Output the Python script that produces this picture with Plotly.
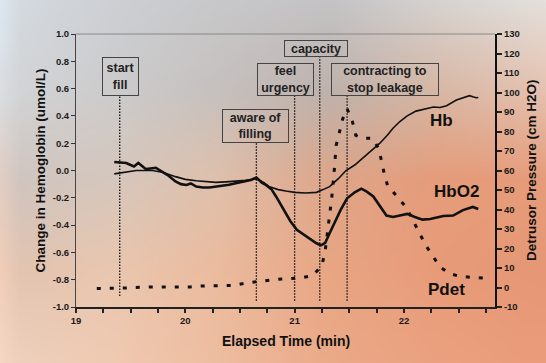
import base64, struct, zlib
import numpy as np
import plotly.graph_objects as go

# ---------------- data ----------------
hb_t = [19.35, 19.45, 19.55, 19.70, 19.80, 19.91, 20.00, 20.10, 20.20, 20.28, 20.37, 20.46, 20.55, 20.65,
        20.72, 20.77, 20.85, 20.92, 21.00, 21.10, 21.20, 21.26, 21.32, 21.40, 21.47, 21.55, 21.62, 21.70,
        21.78, 21.85, 21.90, 21.96, 22.03, 22.11, 22.20, 22.27, 22.33, 22.39, 22.48, 22.55, 22.60, 22.63,
        22.66, 22.68]
hb_v = [-0.025, -0.015, 0.0, 0.0, -0.015, -0.045, -0.065, -0.075, -0.083, -0.087, -0.083, -0.080, -0.072,
        -0.060, -0.090, -0.120, -0.140, -0.150, -0.160, -0.165, -0.160, -0.140, -0.118, -0.060, 0.0, 0.040,
        0.090, 0.140, 0.200, 0.260, 0.310, 0.357, 0.400, 0.435, 0.450, 0.465, 0.462, 0.475, 0.516, 0.535,
        0.548, 0.540, 0.533, 0.535]

hbo2_t = [19.35, 19.42, 19.46, 19.50, 19.53, 19.57, 19.60, 19.64, 19.68, 19.73, 19.79, 19.85, 19.91, 19.96,
          20.01, 20.05, 20.10, 20.16, 20.22, 20.28, 20.34, 20.40, 20.46, 20.50, 20.55, 20.60, 20.65, 20.70,
          20.74, 20.79, 20.83, 20.90, 20.96, 21.02, 21.10, 21.20, 21.24, 21.28, 21.32, 21.37, 21.42, 21.48,
          21.55, 21.61, 21.66, 21.72, 21.78, 21.84, 21.90, 21.96, 22.03, 22.10, 22.17, 22.24, 22.30, 22.36,
          22.45, 22.54, 22.60, 22.63, 22.68]
hbo2_v = [0.062, 0.060, 0.055, 0.040, 0.030, 0.055, 0.035, 0.010, 0.015, 0.020, -0.010, -0.040, -0.080,
          -0.100, -0.106, -0.095, -0.118, -0.125, -0.125, -0.120, -0.110, -0.105, -0.094, -0.088, -0.082,
          -0.070, -0.052, -0.090, -0.108, -0.140, -0.190, -0.290, -0.370, -0.435, -0.480, -0.533, -0.548,
          -0.530, -0.460, -0.370, -0.290, -0.204, -0.160, -0.133, -0.155, -0.190, -0.260, -0.330, -0.340,
          -0.330, -0.318, -0.340, -0.360, -0.355, -0.345, -0.333, -0.330, -0.290, -0.275, -0.267, -0.282]

pdet_t = [19.19, 19.43, 19.68, 19.92, 20.05, 20.16, 20.32, 20.44, 20.56, 20.68, 20.80, 20.92, 21.05, 21.17,
          21.25, 21.28, 21.31, 21.34, 21.36, 21.38, 21.41, 21.44, 21.48, 21.53, 21.56, 21.61, 21.71, 21.77,
          21.82, 21.85, 22.02, 22.14, 22.20, 22.33, 22.42, 22.51, 22.66, 22.80]
pdet_v = [-0.5, -0.3, 0.3, 0.3, 0.3, 0.8, 1.1, 1.1, 2.3, 3.2, 4.0, 4.5, 4.9, 6.2, 11.4, 19.0, 31.8, 46.3,
          58.4, 72.9, 79.7, 86.5, 91.7, 84.8, 78.0, 76.6, 76.6, 71.2, 58.4, 52.3, 41.2, 28.4, 21.6, 10.5,
          7.1, 5.7, 5.0, 4.5]

event_names = ["start<br>fill", "aware of<br>filling", "feel<br>urgency", "capacity", "contracting to<br>stop leakage"]
event_t = [19.40, 20.65, 21.00, 21.23, 21.48]
event_line_bottom = [-0.92, -0.955, -0.955, -0.955, -0.955]
event_line_top = [0.545, 0.20, 0.545, 0.83, 0.545]

left_ticks = [-1.0, -0.8, -0.6, -0.4, -0.2, 0.0, 0.2, 0.4, 0.6, 0.8, 1.0]
left_tick_labels = ["-1.0", "-0.8", "-0.6", "-0.4", "-0.2", "0.0", "0.2", "0.4", "0.6", "0.8", "1.0"]
right_ticks = list(range(-10, 131, 10))
right_tick_labels = [str(v) for v in right_ticks]
x_ticks = [19, 20, 21, 22]
x_tick_labels = ["19", "20", "21", "22"]

# ---------------- layout geometry ----------------
W, H = 546, 363
ML, MR, MT, MB = 76, 51, 34, 56
PW, PH = W - ML - MR, H - MT - MB
FONT = "Liberation Sans, Arial, sans-serif"

# ---------------- background gradient image ----------------
rows_y = [0, 90, 180, 270, 363]
cols_x = [0, 20, 110, 220, 330, 440, 546]
grid = np.array([
    [(222, 232, 240), (212, 218, 224), (205, 208, 212), (200, 200, 202), (196, 195, 197), (214, 211, 209), (228, 224, 220)],
    [(218, 222, 226), (210, 212, 214), (205, 204, 205), (198, 192, 190), (190, 178, 172), (216, 184, 165), (230, 194, 176)],
    [(225, 205, 195), (208, 197, 192), (214, 199, 189), (224, 192, 172), (222, 166, 138), (230, 156, 122), (230, 156, 122)],
    [(240, 205, 185), (226, 196, 177), (234, 199, 176), (235, 187, 158), (232, 166, 132), (232, 155, 121), (230, 152, 118)],
    [(245, 215, 195), (238, 208, 188), (240, 202, 178), (238, 189, 160), (235, 170, 136), (235, 161, 127), (235, 156, 122)],
], dtype=float)
iw, ih = 182, 121
xs = np.linspace(0, W, iw)
ys = np.linspace(0, H, ih)
tmp = np.zeros((len(rows_y), iw, 3))
for r in range(len(rows_y)):
    for c in range(3):
        tmp[r, :, c] = np.interp(xs, cols_x, grid[r, :, c])
img = np.zeros((ih, iw, 3))
for i in range(iw):
    for c in range(3):
        img[:, i, c] = np.interp(ys, rows_y, tmp[:, i, c])
img = np.clip(img, 0, 255).astype(np.uint8)


def png_bytes(arr):
    h, w, _ = arr.shape
    raw = b"".join(b"\x00" + arr[y].tobytes() for y in range(h))

    def chunk(t, d):
        c = struct.pack(">I", len(d)) + t + d
        return c + struct.pack(">I", zlib.crc32(t + d) & 0xFFFFFFFF)

    return (b"\x89PNG\r\n\x1a\n" + chunk(b"IHDR", struct.pack(">IIBBBBB", w, h, 8, 2, 0, 0, 0))
            + chunk(b"IDAT", zlib.compress(raw, 9)) + chunk(b"IEND", b""))


bg_src = "data:image/png;base64," + base64.b64encode(png_bytes(img)).decode()

# ---------------- figure ----------------
fig = go.Figure()

for t, y0, y1 in zip(event_t, event_line_bottom, event_line_top):
    fig.add_trace(go.Scatter(x=[t, t], y=[y0, y1], mode="lines",
                             line=dict(color="#111", width=1.3, dash="1.5px,1.5px"),
                             hoverinfo="skip", showlegend=False))

fig.add_trace(go.Scatter(x=pdet_t, y=pdet_v, yaxis="y2", mode="lines", name="Pdet",
                         line=dict(color="#111", width=3, dash="4px,9px"), showlegend=False))
fig.add_trace(go.Scatter(x=hb_t, y=hb_v, mode="lines", name="Hb",
                         line=dict(color="#111", width=1.6), showlegend=False))
fig.add_trace(go.Scatter(x=hbo2_t, y=hbo2_v, mode="lines", name="HbO2",
                         line=dict(color="#111", width=2.6), showlegend=False))

tickfont = dict(family=FONT, size=9.5, color="#1a1a1a", weight="bold")

fig.update_layout(
    width=W, height=H,
    margin=dict(l=ML, r=MR, t=MT, b=MB),
    paper_bgcolor="#d9c3b3",
    plot_bgcolor="rgba(0,0,0,0)",
    font=dict(family=FONT, color="#111"),
    xaxis=dict(range=[19, 22.833], tickvals=x_ticks, ticktext=x_tick_labels,
               ticks="outside", ticklen=4, tickwidth=1.5, tickcolor="#222",
               minor=dict(dtick=0.25, ticks="outside", ticklen=4, tickwidth=1.5, tickcolor="#222"),
               showline=True, linecolor="#222", linewidth=2, showgrid=False, zeroline=False,
               tickfont=tickfont, automargin=False),
    yaxis=dict(range=[-1, 1], tickvals=left_ticks, ticktext=left_tick_labels,
               ticks="outside", ticklen=4, tickwidth=1, tickcolor="#333",
               showline=True, linecolor="#444", linewidth=1, showgrid=False, zeroline=False,
               tickfont=tickfont, automargin=False),
    yaxis2=dict(range=[-10, 130], tickvals=right_ticks, ticktext=right_tick_labels,
                overlaying="y", side="right", anchor="x",
                ticks="outside", ticklen=5, tickwidth=1.5, tickcolor="#222",
                showline=True, linecolor="#111", linewidth=2, showgrid=False, zeroline=False,
                tickfont=tickfont, automargin=False),
    images=[dict(source=bg_src, xref="paper", yref="paper",
                 x=-ML / PW, y=1 + MT / PH, sizex=W / PW, sizey=H / PH,
                 xanchor="left", yanchor="top", sizing="stretch", layer="below")],
    shapes=[dict(type="line", xref="paper", yref="paper", x0=0, x1=1, y0=1, y1=1,
                 line=dict(color="#888", width=1))],
)

# event boxes
box_pos = [(19.405, 0.69, 37, 39), (20.642, 0.326, 67, 34), (20.917, 0.668, 57, 33),
           (21.191, 0.897, 64, 17), (21.83, 0.666, 108, 33)]
for name, (bx, by, bw, bh) in zip(event_names, box_pos):
    fig.add_annotation(x=bx, y=by, xref="x", yref="y", text="<b>" + name + "</b>", showarrow=False,
                       font=dict(family=FONT, size=12.5, color="#222"),
                       bordercolor="#444", borderwidth=1, borderpad=0,
                       width=bw - 2, height=bh - 2, align="center", valign="middle",
                       xanchor="center", yanchor="middle")

# series labels
for txt, lx, ly in [("Hb", 22.34, 0.369), ("HbO2", 22.48, -0.157), ("Pdet", 22.39, -0.87)]:
    fig.add_annotation(x=lx, y=ly, xref="x", yref="y", text="<b>" + txt + "</b>", showarrow=False,
                       font=dict(family=FONT, size=17, color="#111"),
                       xanchor="center", yanchor="middle")

# axis titles
fig.add_annotation(x=(40 - ML) / PW, y=0.5, xref="paper", yref="paper", textangle=-90,
                   text="<b>Change in Hemoglobin (umol/L)</b>", showarrow=False,
                   font=dict(family=FONT, size=13.5, color="#111"), xanchor="center", yanchor="middle")
fig.add_annotation(x=(531.5 - ML) / PW, y=0.5, xref="paper", yref="paper", textangle=-90,
                   text="<b>Detrusor Pressure (cm H2O)</b>", showarrow=False,
                   font=dict(family=FONT, size=13.5, color="#111"), xanchor="center", yanchor="middle")
fig.add_annotation(x=0.5, y=-(341 - MT - PH) / PH, xref="paper", yref="paper",
                   text="<b>Elapsed Time (min)</b>", showarrow=False,
                   font=dict(family=FONT, size=14, color="#111"), xanchor="center", yanchor="middle")

fig.write_html("out.html", config={"displayModeBar": False},
               post_script="document.body.style.margin='0';document.body.style.padding='0';")
